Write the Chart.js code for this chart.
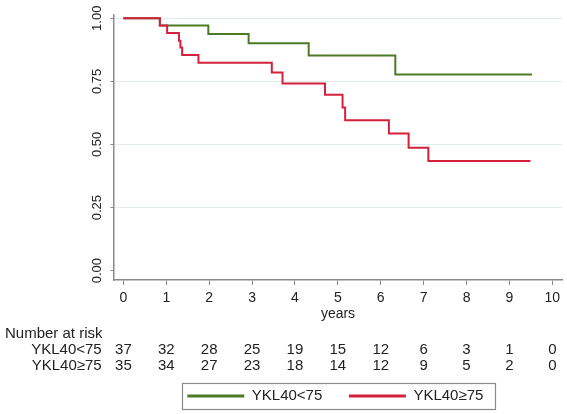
<!DOCTYPE html>
<html>
<head>
<meta charset="utf-8">
<script src="https://cdn.jsdelivr.net/npm/chart.js@4/dist/chart.umd.min.js"></script>
<style>
  body { margin: 0; background: #ffffff; }
  canvas { display: block; }
</style>
</head>
<body>
<canvas id="kmChart" width="567" height="414"></canvas>
<script>
// Kaplan-Meier curves (step times in years, survival after each step)
var lowTimes = [0, 0.85, 1.98, 2.92, 4.32, 6.34, 9.53];
var lowSurv = [1, 0.971, 0.938, 0.901, 0.853, 0.777, 0.777];

var highTimes = [0, 0.85, 1.02, 1.295, 1.33, 1.37, 1.75, 3.46, 3.71, 4.70, 5.11, 5.17, 6.19, 6.65, 7.11, 9.49];
var highSurv = [1, 0.971, 0.942, 0.911, 0.884, 0.855, 0.824, 0.785, 0.742, 0.697, 0.646, 0.596, 0.543, 0.487, 0.435, 0.435];

// Axis ticks
var xTicks = [0, 1, 2, 3, 4, 5, 6, 7, 8, 9, 10];
var yTicks = [0, 0.25, 0.5, 0.75, 1];

// Number at risk table
var riskTimes = [0, 1, 2, 3, 4, 5, 6, 7, 8, 9, 10];
var riskLow = [37, 32, 28, 25, 19, 15, 12, 6, 3, 1, 0];
var riskHigh = [35, 34, 27, 23, 18, 14, 12, 9, 5, 2, 0];

var groupNames = ['YKL40<75', 'YKL40\u226575'];
var fontName = "'Liberation Sans', Arial, Helvetica, sans-serif";

function toPoints(times, surv) {
    return times.map(function (t, i) { return { x: t, y: surv[i] }; });
}

// legend is moved under the risk table, with a frame round it
var legendPad = 26.6;
var legendPlacer = {
    id: 'legendPlacer',
    afterLayout: function (chart) {
        var lg = chart.legend;
        lg.left = 187.3 - legendPad;
        lg.right = 567;
        lg.width = lg.right - lg.left;
        lg.top = 396 - legendPad - 7.5;
        lg.bottom = lg.top + 50;
    },
    afterDraw: function (chart) {
        var ctx = chart.ctx;
        var lg = chart.legend;
        var x0 = lg.left + legendPad - 5.5;
        var w = lg.lineWidths[0] - legendPad + 16.5;
        ctx.save();
        ctx.strokeStyle = '#8a8a8a';
        ctx.lineWidth = 1.2;
        ctx.strokeRect(Math.round(x0) + 0.5, 383.5, Math.round(w), 26);
        ctx.restore();
    }
};

// number at risk rows under the x axis
var riskTable = {
    id: 'riskTable',
    afterDraw: function (chart) {
        var ctx = chart.ctx;
        var xs = chart.scales.x;
        ctx.save();
        ctx.font = '15px ' + fontName;
        ctx.fillStyle = '#222222';
        ctx.textBaseline = 'middle';
        ctx.textAlign = 'left';
        ctx.fillText('Number at risk', 5, 333.5);
        ctx.textAlign = 'right';
        ctx.fillText(groupNames[0], 101.7, 349.5);
        ctx.fillText(groupNames[1], 101.7, 365.5);
        ctx.textAlign = 'center';
        riskTimes.forEach(function (t, i) {
            var px = xs.getPixelForValue(t);
            ctx.fillText(String(riskLow[i]), px, 349.5);
            ctx.fillText(String(riskHigh[i]), px, 365.5);
        });
        ctx.restore();
    }
};

var ctx = document.getElementById('kmChart').getContext('2d');
var kmChart = new Chart(ctx, {
    type: 'line',
    data: {
        datasets: [{
            label: groupNames[0],
            data: toPoints(lowTimes, lowSurv),
            borderColor: '#4c7a26', // olive green
            backgroundColor: '#4c7a26',
            borderWidth: 2,
            pointRadius: 0,
            stepped: 'before',
            fill: false,
            order: 1
        }, {
            label: groupNames[1],
            data: toPoints(highTimes, highSurv),
            borderColor: '#d4213b', // red
            backgroundColor: '#d4213b',
            borderWidth: 2,
            pointRadius: 0,
            stepped: 'before',
            fill: false,
            order: 0
        }]
    },
    options: {
        responsive: false,
        animation: false,
        layout: {
            padding: { top: 15, right: 5, bottom: 37.4, left: 0 }
        },
        scales: {
            x: {
                type: 'linear',
                min: -0.219,
                max: 10.226,
                afterBuildTicks: function (scale) {
                    scale.ticks = xTicks.map(function (v) { return { value: v }; });
                },
                afterFit: function (scale) { scale.height = 45; },
                grid: {
                    drawOnChartArea: false,
                    tickLength: 5,
                    tickColor: '#8a8a8a'
                },
                border: { color: '#8a8a8a', width: 1.5 },
                ticks: {
                    color: '#222222',
                    font: { family: fontName, size: 14 },
                    padding: 5,
                    maxRotation: 0,
                    autoSkip: false
                },
                title: {
                    display: true,
                    text: 'years',
                    color: '#222222',
                    font: { family: fontName, size: 14 },
                    padding: { top: 0, bottom: 2.6 }
                }
            },
            y: {
                min: -0.037,
                max: 1.013,
                afterBuildTicks: function (scale) {
                    scale.ticks = yTicks.map(function (v) { return { value: v }; });
                },
                afterFit: function (scale) { scale.width = 114; },
                grid: {
                    color: function (c) { return c.tick && c.tick.value === 0 ? 'rgba(0,0,0,0)' : '#e3ebf0'; },
                    tickLength: 3.5,
                    tickColor: '#8a8a8a'
                },
                border: { color: '#8a8a8a', width: 1.5 },
                ticks: {
                    color: '#222222',
                    font: { family: fontName, size: 13 },
                    padding: 0,
                    minRotation: 90,
                    maxRotation: 90,
                    crossAlign: 'center',
                    callback: function (v) { return Number(v).toFixed(2); }
                }
            }
        },
        plugins: {
            legend: {
                position: 'bottom',
                align: 'start',
                labels: {
                    usePointStyle: true,
                    pointStyle: 'line',
                    pointStyleWidth: 57,
                    padding: legendPad,
                    color: '#222222',
                    font: { family: fontName, size: 15 },
                    sort: function (a, b) { return a.datasetIndex - b.datasetIndex; },
                    generateLabels: function (chart) {
                        var items = Chart.defaults.plugins.legend.labels.generateLabels(chart);
                        items.forEach(function (it) { it.lineWidth = 3; });
                        return items;
                    }
                }
            },
            tooltip: { enabled: false }
        }
    },
    plugins: [legendPlacer, riskTable]
});
</script>
</body>
</html>
